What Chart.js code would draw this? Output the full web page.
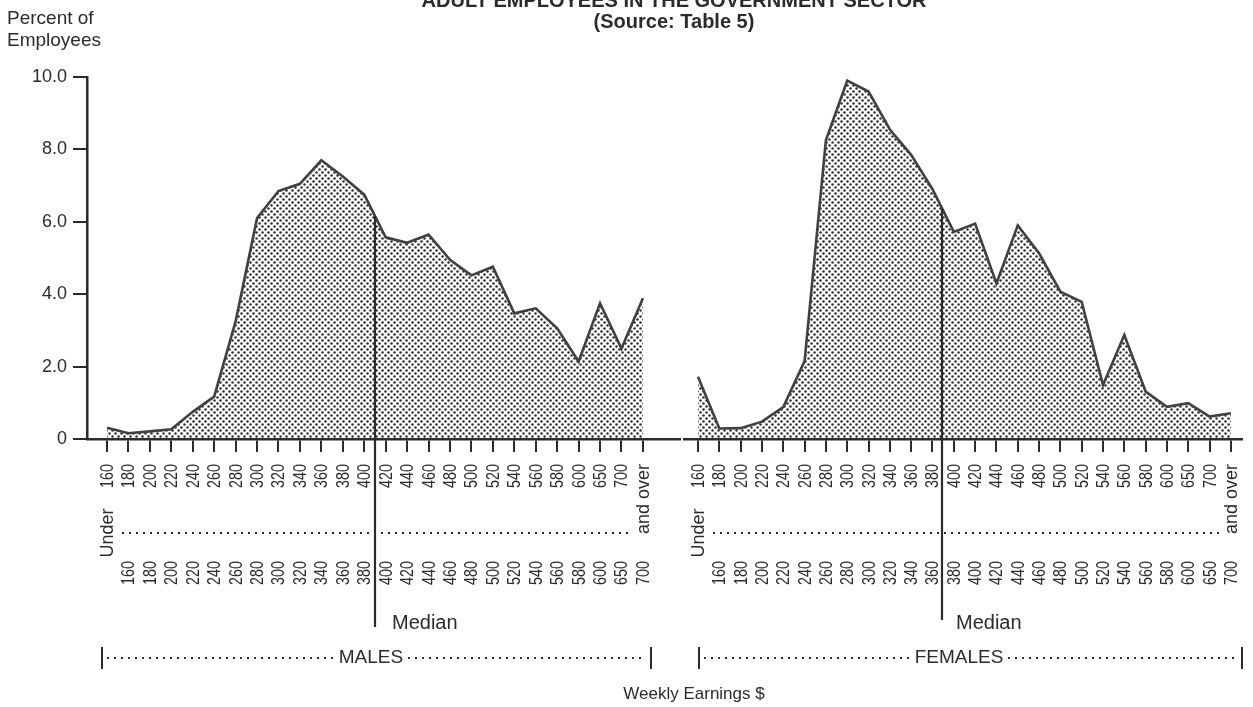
<!DOCTYPE html>
<html>
<head>
<meta charset="utf-8">
<script src="https://cdn.jsdelivr.net/npm/chart.js@4"></script>
<style>
  body { margin: 0; background: #fff; }
  #wrap { position: relative; width: 1253px; height: 707px; overflow: hidden; font-family: 'Liberation Sans', Arial, sans-serif; color: #2b2b2b; }
  canvas { position: absolute; left: 0; top: 0; }
  .txt { position: absolute; white-space: nowrap; }
  #title { left: 674px; top: -10px; transform: translateX(-50%); font: bold 20px/20px 'Liberation Sans'; }
  #source { left: 674px; top: 11px; transform: translateX(-50%); font: bold 20px/20px 'Liberation Sans'; }
  #yname { left: 7px; top: 7px; font: 19px/22px 'Liberation Sans'; }
  #xname { left: 694px; top: 684px; transform: translateX(-50%); font: 17px/20px 'Liberation Sans'; }
</style>
</head>
<body>
<div id="wrap">
  <canvas id="males" width="1253" height="707"></canvas>
  <canvas id="females" width="1253" height="707"></canvas>
  <div class="txt" id="title">ADULT EMPLOYEES IN THE GOVERNMENT SECTOR</div>
  <div class="txt" id="source">(Source: Table 5)</div>
  <div class="txt" id="yname">Percent of<br>Employees</div>
  <div class="txt" id="xname">Weekly Earnings $</div>
</div>
<script>
// earnings classes, read as two rows of rotated labels
const upperLabels = ['160','180','200','220','240','260','280','300','320','340','360','380','400',
  '420','440','460','480','500','520','540','560','580','600','650','700','and over'];
const lowerLabels = ['Under','160','180','200','220','240','260','280','300','320','340','360','380',
  '400','420','440','460','480','500','520','540','560','580','600','650','700'];

// percent of employees in each class
const maleValues = [0.31, 0.16, 0.21, 0.27, 0.75, 1.17, 3.25, 6.1, 6.85, 7.05, 7.7, 7.25, 6.75,
  5.57, 5.42, 5.65, 4.95, 4.52, 4.76, 3.47, 3.61, 3.06, 2.14, 3.75, 2.5, 3.89];
const femaleValues = [1.72, 0.29, 0.3, 0.48, 0.88, 2.15, 8.25, 9.9, 9.6, 8.55, 7.85, 6.9, 5.72,
  5.95, 4.3, 5.9, 5.13, 4.07, 3.79, 1.49, 2.87, 1.31, 0.89, 0.99, 0.62, 0.71];

// median position, in class index units
const maleMedian = 12.5;
const femaleMedian = 11.45;

const yTicks = [0, 2, 4, 6, 8, 10];

const ink = '#2b2b2b';

// halftone-like stipple for the area fill
function stipple() {
  const c = document.createElement('canvas');
  c.width = 6; c.height = 6;
  const g = c.getContext('2d');
  g.fillStyle = '#2e2e2e';
  g.beginPath();
  g.arc(1.5, 1.5, 1.25, 0, Math.PI * 2);
  g.fill();
  g.beginPath();
  g.arc(4.5, 4.5, 1.25, 0, Math.PI * 2);
  g.fill();
  return g.createPattern(c, 'repeat');
}

function vText(ctx, s, x, y, align) {
  ctx.save();
  ctx.translate(x, y);
  ctx.rotate(-Math.PI / 2);
  if (/^\d+$/.test(s)) ctx.scale(0.8, 1);
  ctx.textAlign = align;
  ctx.textBaseline = 'middle';
  ctx.fillText(s, 0, 1);
  ctx.restore();
}

function dotRow(ctx, x0, x1, y, step) {
  for (let x = x0; x <= x1; x += step) ctx.fillRect(Math.round(x) - 1, y - 1, 2, 2);
}

function labelPlugin(values, median, group, o) {
  return {
    id: 'below' + group,
    afterDraw(chart) {
      const ctx = chart.ctx, xs = chart.scales.x, ys = chart.scales.y;
      const px = i => xs.getPixelForValue(i);
      const last = upperLabels.length - 1;
      ctx.save();
      ctx.fillStyle = ink;
      ctx.strokeStyle = ink;
      ctx.font = '18px "Liberation Sans"';
      upperLabels.forEach((s, i) => vText(ctx, s, px(i), 464, 'right'));
      lowerLabels.forEach((s, i) => {
        if (i === 0) vText(ctx, s, px(i), 533, 'center');
        else vText(ctx, s, px(i), 561, 'right');
      });
      dotRow(ctx, px(0) + 16, px(last) - 12, 533, 7);

      // median line up to the curve
      const lo = Math.floor(median), t = median - lo;
      const v = values[lo] + (values[lo + 1] - values[lo]) * t;
      const mx = Math.round(px(median));
      ctx.lineWidth = 2.2;
      ctx.beginPath();
      ctx.moveTo(mx, ys.getPixelForValue(v));
      ctx.lineTo(mx, o.medianEnd);
      ctx.stroke();
      ctx.font = '20px "Liberation Sans"';
      ctx.textAlign = 'left';
      ctx.textBaseline = 'alphabetic';
      ctx.fillText('Median', mx + o.medianGap, 629);

      // group bracket
      const [bl, br, bc] = o.bracket;
      ctx.fillRect(bl - 1, 647, 2, 22);
      ctx.fillRect(br - 1, 647, 2, 22);
      ctx.font = '19px "Liberation Sans"';
      ctx.textAlign = 'center';
      ctx.textBaseline = 'middle';
      ctx.fillText(group, bc, 658);
      const w = ctx.measureText(group).width;
      dotRow(ctx, bl + 6, bc - w / 2 - 6, 658, 7);
      dotRow(ctx, bc + w / 2 + 6, br - 5, 658, 7);
      ctx.restore();
    }
  };
}

function makeChart(id, values, median, group, o) {
  return new Chart(document.getElementById(id), {
    type: 'line',
    data: {
      datasets: [{
        data: values.map((v, i) => ({ x: i, y: v })),
        fill: 'origin',
        backgroundColor: stipple(),
        borderColor: '#404040',
        borderWidth: 2.6,
        pointRadius: 0,
        tension: 0
      }]
    },
    options: {
      responsive: false,
      animation: false,
      events: [],
      layout: { padding: o.padding },
      plugins: { legend: { display: false }, tooltip: { enabled: false } },
      scales: {
        x: {
          type: 'linear',
          min: o.xmin,
          max: o.xmax,
          afterBuildTicks: s => { s.ticks = upperLabels.map((_, i) => ({ value: i })); },
          afterFit: s => { s.height = 268; },
          ticks: { display: false },
          grid: { drawOnChartArea: false, tickLength: 13, color: ink, lineWidth: 2 },
          border: { color: ink, width: 2.5 }
        },
        y: {
          display: o.showY,
          min: 0,
          max: 10,
          afterBuildTicks: s => { s.ticks = yTicks.map(v => ({ value: v })); },
          afterFit: s => { s.width = o.showY ? 87 : 0; },
          ticks: {
            color: ink,
            padding: 6,
            font: { size: 18, family: 'Liberation Sans' },
            callback: v => v === 0 ? '0' : v.toFixed(1)
          },
          grid: { drawOnChartArea: false, tickLength: 14, color: ink, lineWidth: 2 },
          border: { color: ink, width: 2.5 }
        }
      }
    },
    plugins: [labelPlugin(values, median, group, o)]
  });
}

makeChart('males', maleValues, maleMedian, 'MALES', {
  padding: { top: 77, right: 573, bottom: 0, left: 0 },
  xmin: -0.933, xmax: 26.73, showY: true,
  medianEnd: 627, medianGap: 17,
  bracket: [102, 651, 371]
});
makeChart('females', femaleValues, femaleMedian, 'FEMALES', {
  padding: { top: 77, right: 11, bottom: 0, left: 684 },
  xmin: -0.657, xmax: 25.52, showY: false,
  medianEnd: 620, medianGap: 14,
  bracket: [699, 1242, 959]
});
</script>
</body>
</html>
